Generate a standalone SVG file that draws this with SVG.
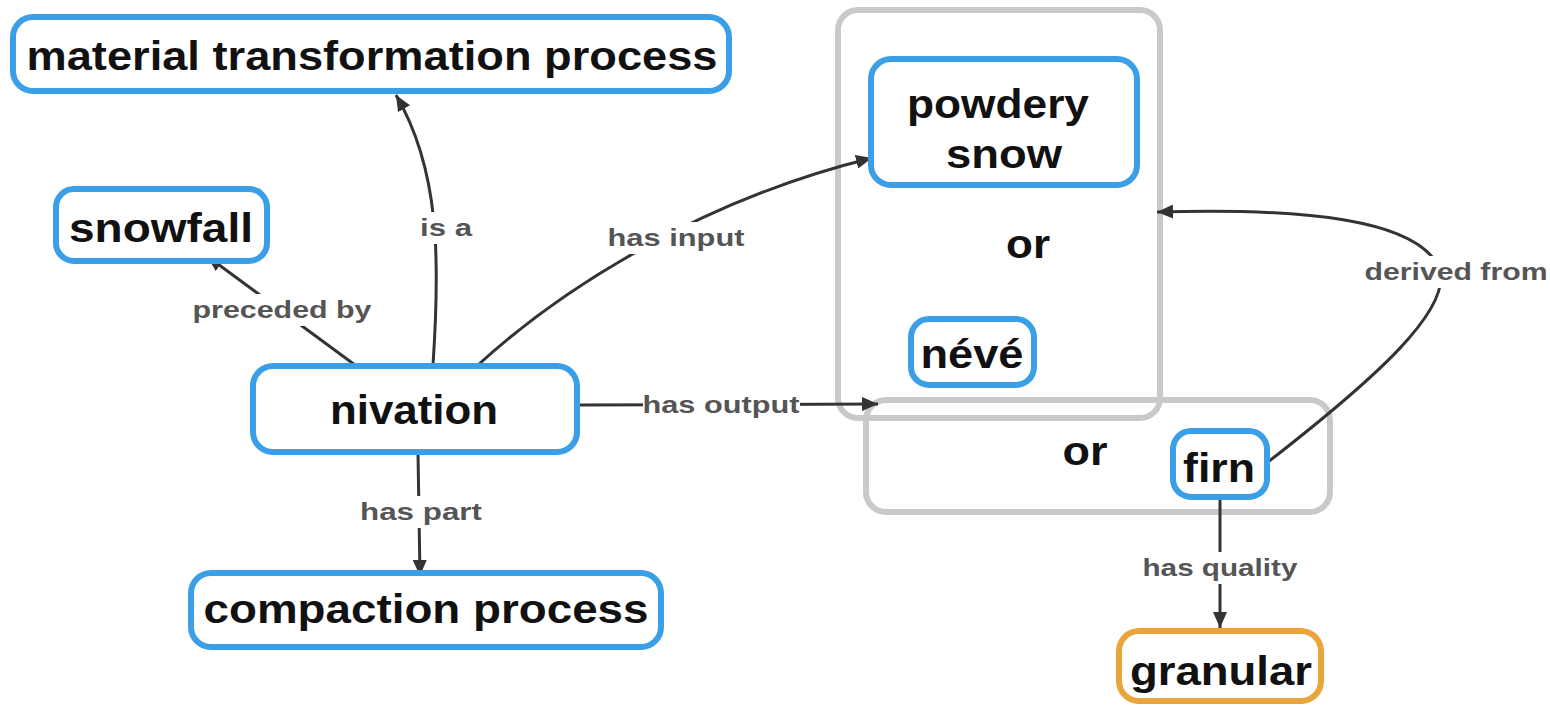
<svg xmlns="http://www.w3.org/2000/svg" width="1550" height="705" viewBox="0 0 1550 705">
<style>
.node{fill:#fff;stroke:#3a9fe6;stroke-width:6}
.qual{fill:#fff;stroke:#e9a43c;stroke-width:6}
.grp{fill:none;stroke:#c9c9c9;stroke-width:6}
.nt{font-family:"Liberation Sans",Arial,sans-serif;font-size:40px;font-weight:bold;fill:#111;text-anchor:middle}
.lt{font-family:"Liberation Sans",Arial,sans-serif;font-size:24px;font-weight:bold;fill:#555;text-anchor:middle}
.edge{fill:none;stroke:#333;stroke-width:3}
.lbg{fill:#fff}
</style>
<defs>
<marker id="arr" markerUnits="userSpaceOnUse" markerWidth="18" markerHeight="14" refX="16" refY="7" orient="auto">
<path d="M0,0 L16,7 L0,14 z" fill="#333"/>
</marker>
</defs>
<g id="groups">
<rect class="grp" x="838" y="10" width="322" height="408" rx="20"/>
<rect class="grp" x="866" y="400" width="464" height="112" rx="20"/>
<text class="nt" x="1028" y="258" textLength="44" lengthAdjust="spacingAndGlyphs">or</text>
<text class="nt" x="1085" y="465" textLength="45" lengthAdjust="spacingAndGlyphs">or</text>
</g>
<g id="connectors">
<path class="edge" d="M433,365 C440,260 440,170 396,95" marker-end="url(#arr)"/>
<path class="edge" d="M355,365 L207,256" marker-end="url(#arr)"/>
<path class="edge" d="M478,365 C560,290 700,200 872,158" marker-end="url(#arr)"/>
<path class="edge" d="M578,405 L878,404" marker-end="url(#arr)"/>
<path class="edge" d="M418,453 L420,576" marker-end="url(#arr)"/>
<path class="edge" d="M1268,462 C1380,375 1450,310 1440,270 C1420,218 1300,208 1157,212" marker-end="url(#arr)"/>
<path class="edge" d="M1220,497 L1220,628" marker-end="url(#arr)"/>
<rect class="lbg" x="416" y="212" width="60" height="32"/>
<text class="lt" x="446" y="236" textLength="52" lengthAdjust="spacingAndGlyphs">is a</text>
<rect class="lbg" x="604" y="222" width="145" height="32"/>
<text class="lt" x="676" y="246" textLength="137" lengthAdjust="spacingAndGlyphs">has input</text>
<rect class="lbg" x="189" y="294" width="187" height="32"/>
<text class="lt" x="282" y="318" textLength="179" lengthAdjust="spacingAndGlyphs">preceded by</text>
<rect class="lbg" x="643" y="389" width="157" height="32"/>
<text class="lt" x="721" y="413" textLength="157" lengthAdjust="spacingAndGlyphs">has output</text>
<rect class="lbg" x="356" y="496" width="130" height="32"/>
<text class="lt" x="421" y="520" textLength="122" lengthAdjust="spacingAndGlyphs">has part</text>
<rect class="lbg" x="1361" y="256" width="189" height="32"/>
<text class="lt" x="1456" y="280" textLength="183" lengthAdjust="spacingAndGlyphs">derived from</text>
<rect class="lbg" x="1139" y="552" width="163" height="32"/>
<text class="lt" x="1220" y="576" textLength="155" lengthAdjust="spacingAndGlyphs">has quality</text>
</g>
<g id="material">
<rect class="node" x="13" y="17" width="716" height="74" rx="20"/>
<text class="nt" x="372" y="70" textLength="691" lengthAdjust="spacingAndGlyphs">material transformation process</text>
</g>
<g id="snowfall">
<rect class="node" x="56" y="189" width="211" height="72" rx="18"/>
<text class="nt" x="161" y="242" textLength="184" lengthAdjust="spacingAndGlyphs">snowfall</text>
</g>
<g id="nivation">
<rect class="node" x="253" y="366" width="324" height="86" rx="20"/>
<text class="nt" x="414" y="424" textLength="168" lengthAdjust="spacingAndGlyphs">nivation</text>
</g>
<g id="compaction">
<rect class="node" x="191" y="573" width="470" height="74" rx="20"/>
<text class="nt" x="426" y="623" textLength="445" lengthAdjust="spacingAndGlyphs">compaction process</text>
</g>
<g id="powdery">
<rect class="node" x="871" y="59" width="266" height="126" rx="20"/>
<text class="nt" x="998" y="118" textLength="182" lengthAdjust="spacingAndGlyphs">powdery</text>
<text class="nt" x="1004" y="168" textLength="116" lengthAdjust="spacingAndGlyphs">snow</text>
</g>
<g id="neve">
<rect class="node" x="911" y="319" width="123" height="66" rx="18"/>
<text class="nt" x="972" y="368" textLength="103" lengthAdjust="spacingAndGlyphs">névé</text>
</g>
<g id="firn">
<rect class="node" x="1173" y="431" width="94" height="66" rx="18"/>
<text class="nt" x="1219" y="482" textLength="72" lengthAdjust="spacingAndGlyphs">firn</text>
</g>
<g id="granular">
<rect class="qual" x="1119" y="631" width="202" height="70" rx="20"/>
<text class="nt" x="1221" y="685" textLength="182" lengthAdjust="spacingAndGlyphs">granular</text>
</g>
</svg>
